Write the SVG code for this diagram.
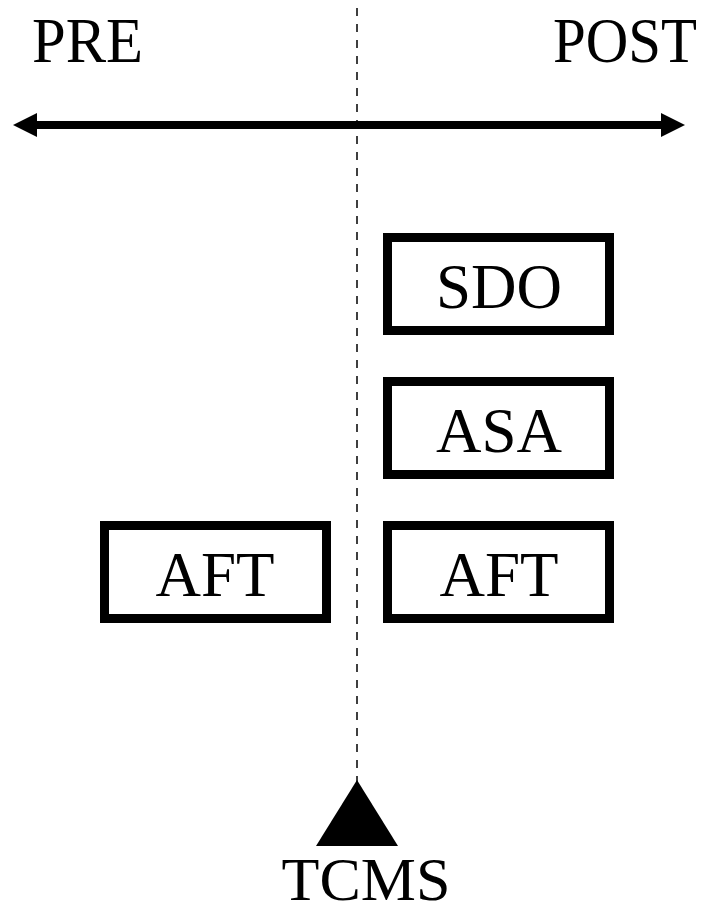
<svg xmlns="http://www.w3.org/2000/svg" width="708" height="914" viewBox="0 0 708 914">
  <style>
    text { font-family: "Liberation Serif", "Times New Roman", serif; font-size: 63px; fill: #000; }
    .box rect { fill: #fff; stroke: #000; stroke-width: 9; }
    .mid { text-anchor: middle; }
  </style>
  <rect width="708" height="914" fill="#fff"/>

  <!-- time axis and event marker line -->
  <g id="connectors">
    <line x1="357" y1="8" x2="357" y2="782" stroke="#000" stroke-width="1.5" stroke-dasharray="8 8"/>
    <line x1="35" y1="125" x2="663" y2="125" stroke="#000" stroke-width="8"/>
    <polygon points="13,125 37,113 37,137" fill="#000"/>
    <polygon points="685,125 661,113 661,137" fill="#000"/>
  </g>

  <g id="label-pre"><text x="32" y="62" textLength="111" lengthAdjust="spacingAndGlyphs">PRE</text></g>
  <g id="label-post"><text x="553" y="62" textLength="144" lengthAdjust="spacingAndGlyphs">POST</text></g>

  <g id="sdo" class="box">
    <rect x="387.5" y="237.5" width="222" height="93"/>
    <text class="mid" x="499" y="308">SDO</text>
  </g>
  <g id="asa" class="box">
    <rect x="387.5" y="381.5" width="222" height="93"/>
    <text class="mid" x="499" y="452">ASA</text>
  </g>
  <g id="aft-post" class="box">
    <rect x="387.5" y="525.5" width="222" height="93"/>
    <text class="mid" x="499" y="596">AFT</text>
  </g>
  <g id="aft-pre" class="box">
    <rect x="104.5" y="525.5" width="222" height="93"/>
    <text class="mid" x="215" y="596">AFT</text>
  </g>

  <g id="tcms">
    <polygon points="357,780 316,846 398,846" fill="#000"/>
    <text class="mid" x="366" y="900" style="font-size:62px">TCMS</text>
  </g>
</svg>
